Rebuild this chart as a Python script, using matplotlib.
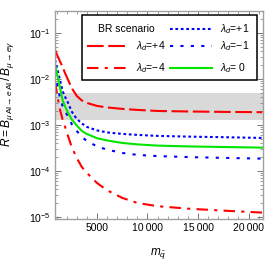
import matplotlib
matplotlib.use("Agg")
import matplotlib.pyplot as plt
from matplotlib.ticker import FixedLocator, MultipleLocator, FuncFormatter
from matplotlib.patches import Rectangle

plt.rcParams["font.family"] = ["Liberation Sans", "DejaVu Sans"]
plt.rcParams["mathtext.fontset"] = "custom"
plt.rcParams["mathtext.rm"] = "Liberation Sans"
plt.rcParams["mathtext.it"] = "Liberation Sans:italic"

# squark mass grid
m_sq = [855, 1100, 1350, 1600, 1850, 2100, 2500, 3000, 3500, 4000,
        5000, 6000, 7500, 9000, 11000, 14000, 17500, 21350]

# ratio R for each lambda_d
r_plus4 = [0.0427, 0.0316, 0.0240, 0.0182, 0.0133, 0.0100, 6.37e-3, 4.27e-3, 3.41e-3, 3.01e-3,
           2.59e-3, 2.40e-3, 2.23e-3, 2.12e-3, 2.01e-3, 1.96e-3, 1.92e-3, 1.89e-3]
r_plus1 = [0.0259, 0.0157, 9.51e-3, 5.48e-3, 4.06e-3, 3.16e-3, 1.96e-3, 1.35e-3, 1.08e-3, 9.06e-4,
           7.6e-4, 6.87e-4, 6.37e-4, 6.07e-4, 5.77e-4, 5.57e-4, 5.41e-4, 5.21e-4]
r_zero = [0.0212, 0.0116, 6.37e-3, 3.49e-3, 2.52e-3, 1.92e-3, 1.32e-3, 9.75e-4, 7.41e-4, 6.37e-4,
          5.14e-4, 4.6e-4, 4.06e-4, 3.77e-4, 3.55e-4, 3.41e-4, 3.31e-4, 3.21e-4]
r_minus1 = [0.0135, 7.05e-3, 3.86e-3, 2.59e-3, 2.01e-3, 1.57e-3, 1.05e-3, 7.41e-4, 5.48e-4, 4.49e-4,
            3.41e-4, 2.9e-4, 2.46e-4, 2.23e-4, 2.1e-4, 2.0e-4, 1.92e-4, 1.85e-4]
r_minus4 = [8.6e-3, 4.06e-3, 2.12e-3, 1.32e-3, 9.06e-4, 6.07e-4, 3.33e-4, 1.92e-4, 1.22e-4, 9.06e-5,
            5.48e-5, 3.8e-5, 2.59e-5, 2.01e-5, 1.71e-5, 1.51e-5, 1.37e-5, 1.24e-5]

# BR scenario band
band_lo, band_hi = 1.25e-3, 5.0e-3

xticks = [5000, 10000, 15000, 20000]

RED = "#ff0000"
BLUE = "#0000ff"
GREEN = "#00e600"

styles = {
    "+4": dict(color=RED, dashes=(8, 2.2)),
    "-4": dict(color=RED, dashes=(5.5, 3, 1.5, 3)),
    "+1": dict(color=BLUE, dashes=(1.3, 1.3)),
    "-1": dict(color=BLUE, dashes=(1.5, 3.5)),
    "0": dict(color=GREEN),
}

fig = plt.figure(figsize=(2.74, 2.74), dpi=100)
ax = fig.add_axes([0.2007, 0.2007, 0.7581, 0.7592])

ax.axhspan(band_lo, band_hi, color="#d9d9d9", lw=0, zorder=0)

lw = 1.5
ax.plot(m_sq, r_plus4, lw=lw, **styles["+4"])
ax.plot(m_sq, r_minus4, lw=lw, **styles["-4"])
ax.plot(m_sq, r_plus1, lw=lw, **styles["+1"])
ax.plot(m_sq, r_minus1, lw=lw, **styles["-1"])
ax.plot(m_sq, r_zero, lw=lw, **styles["0"])

ax.set_yscale("log")
ax.set_xlim(850, 21400)
ax.set_ylim(9e-6, 0.3)

ax.xaxis.set_major_locator(FixedLocator(xticks))
ax.xaxis.set_minor_locator(MultipleLocator(1000))
ax.xaxis.set_major_formatter(FuncFormatter(
    lambda v, p: f"{int(v)}" if v < 10000 else f"{int(v):,}".replace(",", "\u2009")))

ax.tick_params(which="both", direction="in", top=True, right=True,
               color="#777777", labelsize=7.5, pad=3)
ax.tick_params(which="major", length=4, width=0.7)
ax.tick_params(which="minor", length=2, width=0.5)
for s in ax.spines.values():
    s.set_color("#a0a0a0")
    s.set_linewidth(1.0)

ax.set_xlabel(r"$m_{\tilde{q}}$", fontsize=8.5)
ax.xaxis.set_label_coords(0.496, -0.135)
ax.set_ylabel(r"$R = B_{\mu\,\mathrm{Al}\rightarrow e\,\mathrm{Al}}\,/\,B_{\mu\rightarrow e\gamma}$",
              fontsize=8.6)
ax.yaxis.set_label_coords(-0.19, 0.6)

# legend box drawn by hand
tr = ax.transAxes
ax.add_patch(Rectangle((0.130, 0.668), 0.843, 0.313, transform=tr,
                       fill=True, fc="white", ec="black", lw=1.1, zorder=5))
ax.text(0.2085, 0.912, "BR scenario", transform=tr, fontsize=7.5,
        va="center", ha="left", zorder=6)
entries = [
    ("+4", 0.1526, 0.348, 0.39, 0.832, r"$\lambda_d$=+4"),
    ("-4", 0.1526, 0.348, 0.39, 0.724, r"$\lambda_d$=$-$4"),
    ("+1", 0.5537, 0.7545, 0.794, 0.912, r"$\lambda_d$=+1"),
    ("-1", 0.5537, 0.7545, 0.794, 0.832, r"$\lambda_d$=$-$1"),
    ("0", 0.5537, 0.7545, 0.794, 0.724, r"$\lambda_d$= 0"),
]
for key, x0, x1, xt, yy, label in entries:
    ax.plot([x0, x1], [yy, yy], transform=tr, lw=lw, zorder=6, **styles[key])
    ax.text(xt, yy, label, transform=tr, fontsize=7.5, va="center", ha="left", zorder=6)

fig.savefig("out.png", dpi=100)
